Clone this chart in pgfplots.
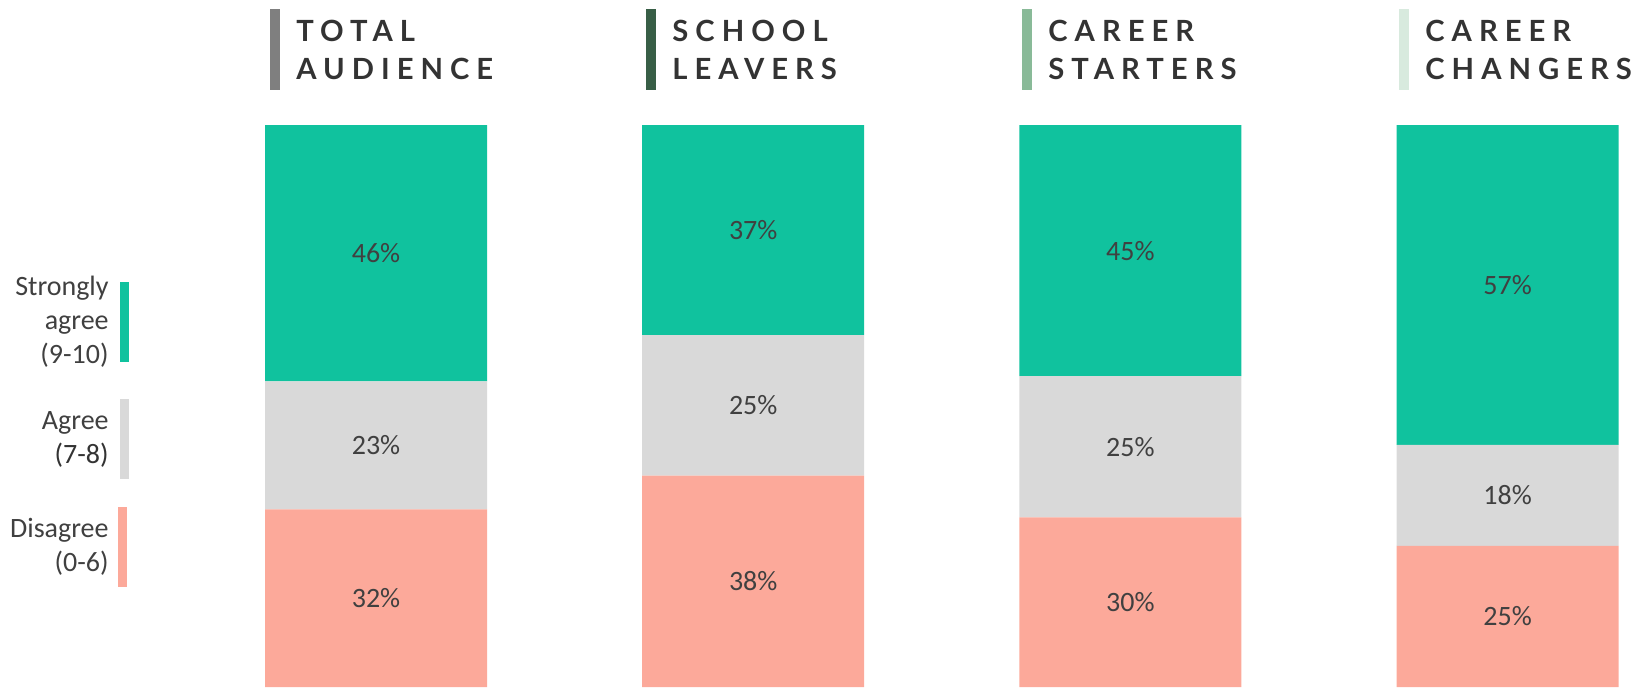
\documentclass[border=0pt]{standalone}
\usepackage{pgfplots}
\pgfplotsset{compat=1.18}
\usepackage{pgfplotstable}
\usepackage{fontspec}
\setmainfont{Carlito}
\newfontfamily\headfont[LetterSpace=24]{Lato}

\definecolor{cStr}{RGB}{16,194,158}
\definecolor{cAgr}{RGB}{217,217,217}
\definecolor{cDis}{RGB}{252,169,154}
\definecolor{txt}{RGB}{64,64,64}
\definecolor{head}{RGB}{51,51,51}
\definecolor{mTot}{RGB}{127,127,127}
\definecolor{mSch}{RGB}{56,94,70}
\definecolor{mSta}{RGB}{137,186,152}
\definecolor{mCha}{RGB}{216,234,222}

% shares per group (segments sum to 100)
\pgfplotstableread{
x dis agr str
0 31.6 22.8 45.6
1 37.6 25.0 37.4
2 30.2 25.1 44.7
3 25.1 18.0 56.9
}\shares

\begin{document}
\begin{tikzpicture}
\useasboundingbox (0,0) rectangle (816pt,343.5pt);

\begin{axis}[
    at={(132.5pt,0pt)}, anchor=south west,
    width=676.8pt, height=281pt, scale only axis,
    ybar stacked, bar width=0.5886,
    xmin=-0.2943, xmax=3.2943, ymin=0, ymax=100,
    hide axis,
    nodes near coords={\pgfmathprintnumber[fixed,precision=0,assume math mode=true]{\pgfplotspointmeta}\%},
    every node near coord/.append style={
        anchor=center, font=\fontsize{14}{16}\selectfont, text=txt},
]
\addplot[fill=cDis, draw=none] table[x=x, y=dis] {\shares};
\addplot[fill=cAgr, draw=none] table[x=x, y=agr] {\shares};
\addplot[fill=cStr, draw=none] table[x=x, y=str] {\shares};
\end{axis}

% group headers
\foreach \xm/\col/\la/\lb in {135/mTot/TOTAL/AUDIENCE, 323/mSch/SCHOOL/LEAVERS,
        511/mSta/CAREER/STARTERS, 699.5/mCha/CAREER/CHANGERS} {
    \fill[\col] (\xm pt,298.5pt) rectangle ++(5pt,40.5pt);
    \node[anchor=base west, inner sep=0pt, text=head, font=\headfont\bfseries\fontsize{14.6}{16}\selectfont]
        at (\xm pt+13pt,322.6pt) {\la};
    \node[anchor=base west, inner sep=0pt, text=head, font=\headfont\bfseries\fontsize{14.6}{16}\selectfont]
        at (\xm pt+13pt,303.5pt) {\lb};
}

% legend
\fill[cStr] (60pt,162.5pt) rectangle (64.5pt,202.5pt);
\fill[cAgr] (60pt,104pt) rectangle (64.5pt,144pt);
\fill[cDis] (59pt,50pt) rectangle (63.5pt,90pt);
\begin{scope}[every node/.style={anchor=east, align=right, inner sep=0pt, text=txt,
        font=\fontsize{14}{17}\selectfont}]
\node at (54.5pt,182.5pt) {Strongly\\agree\\(9-10)};
\node at (54.5pt,124pt) {Agree\\\textcolor{head}{(7-8)}};
\node at (54.5pt,70pt) {Disagree\\(0-6)};
\end{scope}
\end{tikzpicture}
\end{document}
